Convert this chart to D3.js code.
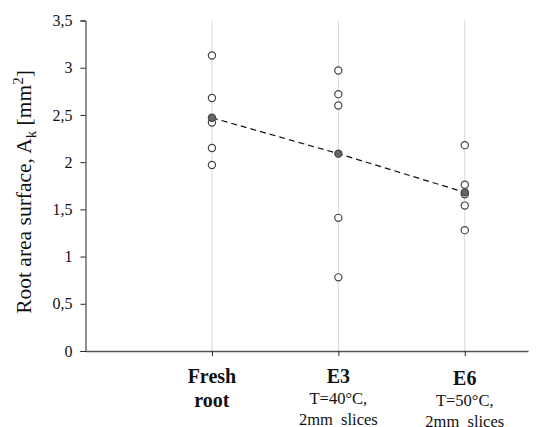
<!DOCTYPE html>
<html>
<head>
  <meta charset="utf-8">
  <title>Root area surface</title>
  <script src="https://cdnjs.cloudflare.com/ajax/libs/d3/7.8.5/d3.min.js"></script>
  <style>
    body { margin: 0; background: #fff; }
    text { font-family: "Liberation Serif", "Times New Roman", serif; }
  </style>
</head>
<body>
<div id="chart"></div>
<script>
var groups = ['Fresh root', 'E3', 'E6'];
var groupPos = [1, 2, 3];
var groupLabels = [['Fresh', 'root'], ['E3', 'T=40°C,', '2mm\u00a0 slices'], ['E6', 'T=50°C,', '2mm\u00a0 slices']];
var samples = [
  [3.13, 2.68, 2.42, 2.15, 1.97],
  [2.97, 2.72, 2.60, 1.41, 0.78],
  [2.18, 1.76, 1.66, 1.54, 1.28]
];
var means = [2.47, 2.09, 1.68];
var yTicks = [0, 0.5, 1, 1.5, 2, 2.5, 3, 3.5];

var width = 547, height = 427;
var svg = d3.select('#chart').append('svg')
  .attr('width', width)
  .attr('height', height);

var x = d3.scaleLinear().domain([0, 3.5]).range([85.5, 528]);
var y = d3.scaleLinear().domain([0, 3.5]).range([351, 20.5]);

// vertical grid lines at each group
svg.selectAll('line.grid')
  .data(groupPos)
  .enter()
  .append('line')
  .attr('class', 'grid')
  .attr('x1', function(d) { return x(d); })
  .attr('x2', function(d) { return x(d); })
  .attr('y1', y(3.5))
  .attr('y2', y(0))
  .attr('stroke', '#d9d9d9')
  .attr('stroke-width', 1);

// y axis
var yAxis = d3.axisLeft(y)
  .tickValues(yTicks)
  .tickSize(5)
  .tickPadding(8)
  .tickFormat(function(d) { return String(d).replace('.', ','); });
var gy = svg.append('g')
  .attr('transform', 'translate(' + x(0) + ',0)')
  .call(yAxis)
  .attr('font-family', '"Liberation Serif", serif')
  .attr('font-size', 16);
gy.select('.domain').attr('stroke', '#222');
gy.selectAll('.tick line').attr('stroke', '#222');
gy.selectAll('.tick text').attr('fill', '#111');

// x axis
var xAxis = d3.axisBottom(x)
  .tickValues(groupPos)
  .tickSizeInner(5)
  .tickSizeOuter(0)
  .tickFormat('');
var gx = svg.append('g')
  .attr('transform', 'translate(0,' + y(0) + ')')
  .call(xAxis);
gx.select('.domain').attr('stroke', '#555').attr('stroke-width', 1.5);
gx.selectAll('.tick line').attr('stroke', '#222');

// x labels
groupLabels.forEach(function(lines, i) {
  var t = svg.append('text')
    .attr('x', x(groupPos[i]))
    .attr('y', i === 2 ? 385 : 383)
    .attr('text-anchor', 'middle')
    .attr('fill', '#111');
  lines.forEach(function(s, j) {
    var ts = t.append('tspan')
      .attr('x', x(groupPos[i]))
      .text(s);
    if (j === 0) {
      ts.style('font-weight', 'bold').style('font-size', '20px');
    } else if (i === 0) {
      ts.attr('dy', 24).style('font-weight', 'bold').style('font-size', '20px');
    } else {
      ts.attr('dy', 21).style('font-size', '16.5px');
    }
  });
});

// y label
var yl = svg.append('text')
  .attr('transform', 'translate(31,192) rotate(-90)')
  .attr('text-anchor', 'middle')
  .attr('fill', '#111')
  .style('font-size', '21.5px');
yl.append('tspan').text('Root area surface, A');
yl.append('tspan').attr('dy', 5).style('font-size', '15px').text('k');
yl.append('tspan').attr('dy', -5).text(' [mm');
yl.append('tspan').attr('dy', -8).style('font-size', '15px').text('2');
yl.append('tspan').attr('dy', 8).text(']');

// dashed mean line
var line = d3.line()
  .x(function(d, i) { return x(groupPos[i]); })
  .y(function(d) { return y(d); });
svg.append('path')
  .datum(means)
  .attr('d', line)
  .attr('fill', 'none')
  .attr('stroke', '#111')
  .attr('stroke-width', 1.2)
  .attr('stroke-dasharray', '6,4');

// sample points
samples.forEach(function(vals, i) {
  svg.selectAll('circle.s' + i)
    .data(vals)
    .enter()
    .append('circle')
    .attr('class', 's' + i)
    .attr('cx', x(groupPos[i]))
    .attr('cy', function(d) { return y(d); })
    .attr('r', 3.6)
    .attr('fill', '#fff')
    .attr('stroke', '#444')
    .attr('stroke-width', 1.2);
});

// mean points
svg.selectAll('circle.mean')
  .data(means)
  .enter()
  .append('circle')
  .attr('class', 'mean')
  .attr('cx', function(d, i) { return x(groupPos[i]); })
  .attr('cy', function(d) { return y(d); })
  .attr('r', 3.6)
  .attr('fill', '#666')
  .attr('stroke', '#444')
  .attr('stroke-width', 1.2);
</script>
</body>
</html>
